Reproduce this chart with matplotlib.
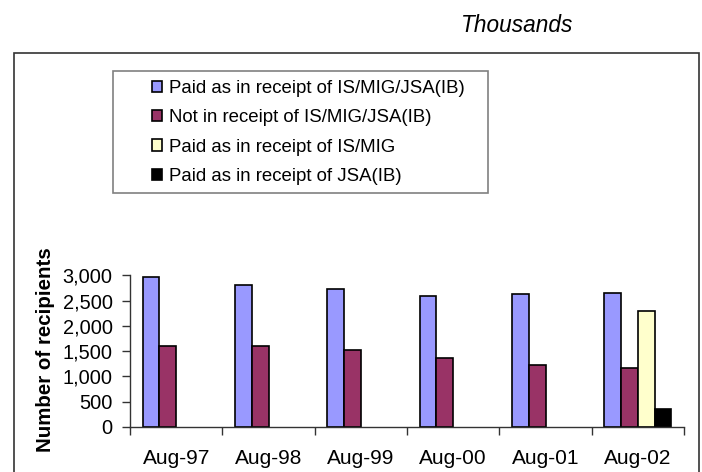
import matplotlib.pyplot as plt
from matplotlib.patches import Rectangle
from matplotlib.ticker import FuncFormatter, FixedLocator
import numpy as np

plt.rcParams['font.family'] = ['Liberation Sans', 'DejaVu Sans']

# Daten (Tausend Empfänger), None = kein Wert in diesem Jahr
categories = ['Aug-97', 'Aug-98', 'Aug-99', 'Aug-00', 'Aug-01', 'Aug-02']
paid_is_mig_jsa = [2966, 2809, 2737, 2592, 2625, 2651]
not_in_receipt = [1605, 1608, 1513, 1355, 1224, 1171]
paid_is_mig = [None, None, None, None, None, 2303]
paid_jsa = [None, None, None, None, None, 349]

series = [
    ('Paid as in receipt of IS/MIG/JSA(IB)', paid_is_mig_jsa, '#9999FF'),
    ('Not in receipt of IS/MIG/JSA(IB)', not_in_receipt, '#993366'),
    ('Paid as in receipt of IS/MIG', paid_is_mig, '#FFFFCC'),
    ('Paid as in receipt of JSA(IB)', paid_jsa, '#000000'),
]

W, H = 702, 472
fig = plt.figure(figsize=(W / 100, H / 100), dpi=100)

# Äußerer Rahmen
fig.patches.append(Rectangle((14 / W, -0.05), (699 - 14) / W, 1.05 - 52.7 / H,
                             transform=fig.transFigure, fill=False,
                             edgecolor='#333333', linewidth=1.2))

ax = fig.add_axes([130 / W, 1 - 427 / H, (684 - 130) / W, (427 - 275.3) / H])

x = np.arange(len(categories))
w = 1 / 5.5
handles = []
for i, (label, vals, col) in enumerate(series):
    idx = [j for j, v in enumerate(vals) if v is not None]
    b = ax.bar(x[idx] + (i - 1.5) * w, [vals[j] for j in idx], width=w, color=col,
               edgecolor='black', linewidth=1.2, label=label)
    handles.append(b)

ax.set_xlim(-0.5, len(categories) - 0.5)
ax.set_ylim(0, 3000)
ax.set_yticks(range(0, 3001, 500))
ax.yaxis.set_major_formatter(FuncFormatter(lambda v, p: f'{int(v):,}'))
ax.set_xticks(x)
ax.set_xticklabels(categories, fontsize=15)
ax.xaxis.set_minor_locator(FixedLocator(np.arange(-0.5, len(categories), 1)))
ax.tick_params(axis='x', which='major', length=0, pad=16)
ax.tick_params(axis='x', which='minor', length=6, width=1, color='#333333')
ax.tick_params(axis='y', length=6, width=1, labelsize=14.4, pad=6.5, color='#333333')

for s in ['top', 'right']:
    ax.spines[s].set_visible(False)
for s in ['left', 'bottom']:
    ax.spines[s].set_color('#333333')
    ax.spines[s].set_linewidth(1)

fig.text(46 / W, 1 - 350 / H, 'Number of recipients', rotation=90, fontsize=14.8,
         fontweight='bold', ha='center', va='center')

fig.text(573 / W, 1 - 25 / H, 'Thousands', fontsize=16.3, style='italic',
         ha='right', va='center')

# Legendenrahmen
fig.patches.append(Rectangle((113 / W, 1 - 193 / H), (488 - 113) / W, (193 - 71) / H,
                             transform=fig.transFigure, fill=False,
                             edgecolor='#808080', linewidth=1.2))

fig.legend(handles=handles, loc='upper left',
           bbox_to_anchor=(152 / W, 1 - 80 / H), frameon=False, fontsize=13.4,
           handlelength=0.55, handleheight=0.55, handletextpad=0.35,
           labelspacing=0.66, borderpad=0, borderaxespad=0)

fig.savefig('out.png', dpi=100)
